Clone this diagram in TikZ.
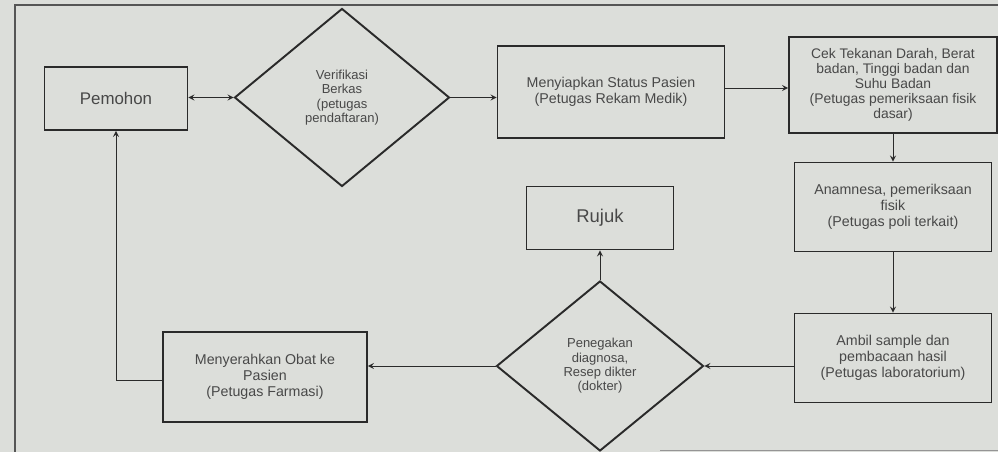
\documentclass[tikz,border=0pt]{standalone}
\usepackage{fontspec}
\setmainfont{Liberation Sans}
\usepackage{xcolor}
\usepackage{tikz}
\usetikzlibrary{shapes.geometric, arrows}
\definecolor{paper}{HTML}{DCDEDA}
\definecolor{ink}{HTML}{2A2A2A}
\definecolor{txt}{HTML}{484848}
\tikzstyle{process} = [rectangle, draw=ink, line width=1.1pt, text=txt, align=center, inner sep=2pt, font=\fontsize{8.1}{9}\selectfont]
\tikzstyle{decision} = [diamond, draw=ink, line width=1.1pt, text=txt, align=center, inner sep=0pt, font=\fontsize{7.4}{8.2}\selectfont]
\tikzstyle{arrow} = [draw=ink, line width=0.5pt, ->, >=stealth]

\begin{document}
\begin{tikzpicture}

  \useasboundingbox[fill=paper] (0,0) rectangle (19.96,-9.04);
  \draw[draw=ink!80, line width=0.7pt] (0.3,-9.04) |- (20.5,-0.1);
  \draw[draw=ink!50, line width=0.5pt] (13.2,-9.0) -- (20.5,-9.0);

  \node (pem) [process, minimum width=2.86cm, minimum height=1.26cm, font=\fontsize{9.6}{11}\selectfont] at (2.32,-1.97) {Pemohon};
  \node (ver) [decision, minimum width=4.3cm, minimum height=3.56cm] at (6.84,-1.95) {Verifikasi\\Berkas\\(petugas\\pendaftaran)};
  \node (men) [process, minimum width=4.54cm, minimum height=1.84cm] at (12.22,-1.84) {Menyiapkan Status Pasien\\(Petugas Rekam Medik)};
  \node (cek) [process, minimum width=4.16cm, minimum height=1.92cm, font=\fontsize{7.9}{8.6}\selectfont] at (17.86,-1.7) {Cek Tekanan Darah, Berat\\badan, Tinggi badan dan\\Suhu Badan\\(Petugas pemeriksaan fisik\\dasar)};
  \node (ana) [process, minimum width=3.94cm, minimum height=1.78cm] at (17.86,-4.14) {Anamnesa, pemeriksaan\\fisik\\(Petugas poli terkait)};
  \node (ruj) [process, minimum width=2.94cm, minimum height=1.26cm, font=\fontsize{10.5}{12}\selectfont] at (12.0,-4.36) {Rujuk};
  \node (pen) [decision, minimum width=4.14cm, minimum height=3.4cm] at (12.0,-7.32) {Penegakan\\diagnosa,\\Resep dikter\\(dokter)};
  \node (amb) [process, minimum width=3.94cm, minimum height=1.78cm] at (17.86,-7.16) {Ambil sample dan\\pembacaan hasil\\(Petugas laboratorium)};
  \node (mys) [process, minimum width=4.08cm, minimum height=1.8cm] at (5.3,-7.54) {Menyerahkan Obat ke\\Pasien\\(Petugas Farmasi)};

  \draw[arrow, <->] (pem.east |- ver.west) -- (ver.west);
  \draw[arrow] (ver.east) -- (ver.east -| men.west);
  \draw[arrow] (men.east |- 0,-1.76) -- (cek.west |- 0,-1.76);
  \draw[arrow] (cek.south) -- (ana.north);
  \draw[arrow] (ana.south) -- (amb.north);
  \draw[arrow] (amb.west |- pen.east) -- (pen.east);
  \draw[arrow] (pen.north) -- (ruj.south);
  \draw[arrow] (pen.west) -- (pen.west -| mys.east);
  \draw[arrow] (mys.west |- 0,-7.6) -| (pem.south);

\end{tikzpicture}
\end{document}
